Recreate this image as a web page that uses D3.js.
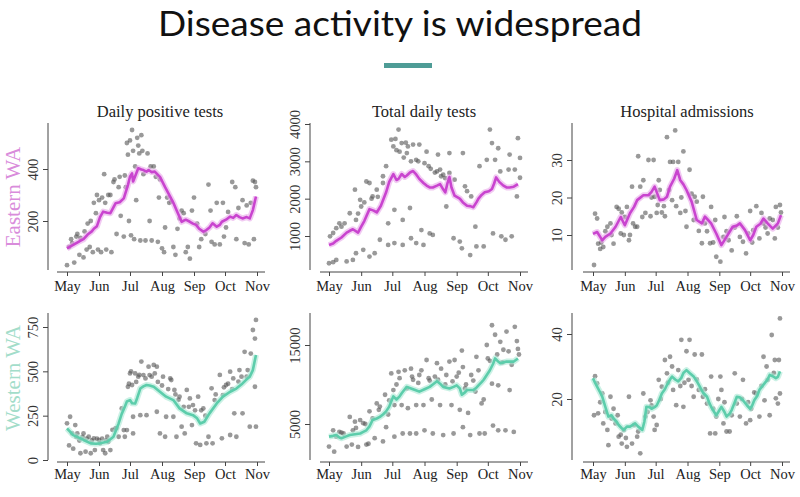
<!DOCTYPE html>
<html><head><meta charset="utf-8">
<script src="https://cdn.jsdelivr.net/npm/d3@7"></script>
<style>
html,body{margin:0;padding:0;background:#fff;}
svg{display:block;}
</style></head>
<body>
<svg id="chart" width="800" height="497"></svg>
<script>
// ---------------- DATA ----------------
const chartTitle = "Disease activity is widespread";
const panelTitles = ["Daily positive tests", "Total daily tests", "Hospital admissions"];
const rowLabels = ["Eastern WA", "Western WA"];
const monthLabels = ["May", "Jun", "Jul", "Aug", "Sep", "Oct", "Nov"];
const startDate = "2020-05-01"; // day 0

const eastPosTicks = [200, 400];
const eastTestTicks = [1000, 2000, 3000, 4000];
const eastHospTicks = [10, 20, 30];
const westPosTicks = [0, 250, 500, 750];
const westTestTicks = [5000, 15000];
const westHospTicks = [20, 40];

// [day since May 1, value]
const eastPosLine = [[0,95],[6,108],[12,122],[16,130],[20,148],[24,160],[26,170],[29,180],[32,215],[35,236],[39,232],[42,230],[47,268],[51,272],[55,287],[59,338],[61,370],[63,383],[64,352],[66,372],[69,403],[72,398],[74,396],[77,390],[79,396],[82,388],[85,390],[90,370],[95,330],[100,293],[103,270],[106,242],[109,215],[111,197],[115,205],[119,197],[122,190],[125,185],[128,170],[132,159],[135,165],[138,175],[141,191],[145,178],[148,185],[150,197],[154,205],[158,217],[161,212],[164,223],[167,215],[170,210],[174,215],[177,210],[180,242],[183,294]];
const eastPosDots = [[0,30],[2,100],[4,130],[5,115],[7,40],[9,140],[10,150],[12,70],[13,135],[16,60],[17,160],[19,90],[20,190],[22,100],[23,200],[25,80],[26,270],[28,230],[29,300],[30,90],[31,280],[33,80],[34,290],[36,380],[37,270],[38,90],[40,300],[42,300],[43,80],[45,350],[46,360],[48,150],[50,330],[51,370],[52,220],[55,140],[56,375],[57,330],[58,500],[59,455],[60,200],[61,510],[62,145],[63,550],[64,470],[65,130],[66,410],[67,280],[68,520],[69,490],[70,460],[71,125],[72,530],[73,470],[74,380],[76,125],[78,460],[80,200],[81,410],[82,125],[84,410],[86,370],[88,120],[89,290],[90,360],[92,95],[94,80],[95,175],[97,290],[99,270],[101,275],[103,100],[105,70],[107,170],[109,210],[111,240],[113,230],[115,80],[117,100],[119,55],[121,240],[123,290],[126,190],[128,100],[130,130],[134,150],[137,340],[139,240],[140,120],[143,110],[145,270],[148,110],[151,270],[152,140],[154,175],[156,235],[160,350],[163,330],[164,130],[166,250],[170,280],[172,115],[174,260],[176,110],[178,270],[180,355],[181,130],[182,350],[183,330]];

const eastTestLine = [[0,760],[4,800],[7,870],[12,960],[17,1090],[20,1140],[23,1180],[28,1090],[31,1250],[34,1400],[39,1720],[43,1680],[46,1630],[50,1810],[55,2170],[58,2450],[62,2660],[65,2500],[67,2530],[70,2660],[73,2580],[75,2620],[78,2700],[81,2740],[84,2650],[87,2530],[91,2420],[94,2350],[97,2300],[100,2300],[104,2350],[107,2390],[110,2250],[112,2170],[114,2400],[116,2580],[118,2300],[121,2080],[126,2000],[129,1900],[133,1810],[136,1800],[139,1770],[142,1900],[144,2000],[147,2100],[150,2170],[154,2200],[157,2260],[159,2400],[161,2570],[164,2450],[168,2350],[171,2300],[174,2300],[178,2320],[182,2390]];
const eastTestDots = [[0,270],[4,300],[7,360],[1,990],[4,1080],[7,1210],[10,1340],[12,1250],[15,1340],[17,320],[23,360],[20,1610],[26,540],[25,2240],[26,1430],[30,1970],[31,1790],[33,630],[36,2460],[39,2420],[39,450],[42,2060],[44,540],[46,2240],[49,900],[52,2420],[52,2600],[55,2870],[57,1340],[57,760],[60,3580],[62,3400],[63,1700],[63,810],[67,3850],[68,3260],[70,3490],[71,1430],[71,760],[75,3220],[76,3400],[78,1750],[79,940],[81,3450],[84,810],[84,3040],[87,3450],[89,1160],[91,760],[94,3260],[96,2870],[97,1070],[100,1030],[104,2730],[105,3180],[107,2780],[110,2640],[113,1790],[116,3220],[116,2690],[120,940],[121,2510],[126,850],[128,670],[129,3220],[131,2330],[133,2200],[136,490],[137,2060],[141,1250],[142,720],[145,2870],[149,720],[152,3040],[155,3850],[157,3490],[158,1070],[160,3040],[163,3350],[165,2730],[166,990],[170,900],[173,2780],[174,3180],[176,990],[179,2780],[181,2060],[182,3620],[184,3090],[184,2560],[64,3600],[65,3300],[72,3100],[74,3500],[79,3000],[86,3000],[92,2950],[98,2800],[102,2700],[108,2600],[112,2550],[28,1600],[34,1900],[41,2000],[47,2050]];

const eastHospLine = [[0,10.3],[4,10.8],[7,9.5],[9,8.6],[12,9.5],[17,10.4],[22,12.2],[27,14.8],[31,12.6],[36,15.8],[40,17.5],[43,19.3],[49,20.6],[54,20.6],[57,21.5],[60,22.9],[65,19.3],[69,19.5],[72,20.2],[75,22.9],[79,25],[82,27.3],[85,24.6],[88,23.5],[91,22],[96,18.9],[101,14],[106,13.1],[109,14.9],[112,14],[115,13.1],[120,10.4],[125,7.3],[130,9.5],[136,12.2],[140,12.5],[143,13.1],[148,11.3],[153,8.6],[156,10],[159,12.2],[163,13],[166,14.4],[170,13.1],[175,11.7],[180,13.1],[183,15.3]];
const eastHospDots = [[1,2.0],[2,15.7],[4,14.4],[5,7.7],[7,6.3],[10,6.8],[14,12.2],[17,13.1],[20,7.7],[23,17.5],[25,17],[27,10.4],[30,10],[31,14.8],[33,17.5],[35,8.6],[38,22.9],[39,13.1],[41,12.2],[43,12.2],[44,31],[46,22.9],[48,14.8],[49,24.6],[51,15.9],[54,30],[56,15],[59,30],[60,20.2],[62,15.9],[64,24.6],[65,22],[67,16],[69,17.7],[70,15],[72,36.1],[75,29.5],[77,19.3],[78,29.5],[80,37.9],[81,17.7],[83,29.5],[85,15.9],[88,32.3],[90,16.4],[91,12.2],[94,27.4],[98,14],[99,20.2],[101,18.9],[103,11.1],[106,7.8],[107,20.2],[109,13.1],[114,7.8],[115,17.5],[119,14],[120,4.2],[124,2.9],[127,9.5],[128,14.8],[132,8.6],[135,5.9],[140,15],[143,9.5],[146,8.2],[149,5.1],[151,10.4],[153,16.4],[156,11.3],[159,17.7],[162,9.1],[164,15.9],[166,13.1],[170,10.4],[172,14.4],[177,9.1],[178,17.5],[182,18],[183,16],[8,8],[12,11],[18,10],[28,16],[36,10],[57,20],[63,18],[74,22],[86,20],[96,21],[111,11],[117,8],[130,11],[138,12],[155,8],[168,12],[175,14],[180,12]];

const westPosLine = [[0,178],[6,140],[12,125],[16,113],[23,94],[28,92],[32,94],[39,103],[45,131],[50,206],[53,260],[56,300],[58,330],[61,338],[63,320],[66,319],[68,350],[71,403],[74,415],[77,423],[80,420],[84,413],[90,385],[96,357],[103,338],[109,291],[116,263],[122,253],[126,235],[129,206],[133,216],[138,263],[145,319],[151,357],[158,385],[164,403],[170,432],[174,455],[177,470],[180,507],[183,592]];
const westPosDots = [[0,207],[2,82],[3,244],[6,64],[8,197],[10,150],[13,38],[16,150],[18,47],[21,131],[23,38],[26,122],[27,56],[31,113],[32,94],[35,56],[37,38],[39,131],[40,103],[42,56],[47,178],[50,131],[53,291],[55,169],[56,131],[58,169],[59,413],[61,488],[63,423],[64,150],[64,244],[66,488],[69,470],[71,253],[72,555],[74,479],[77,253],[79,526],[80,479],[84,536],[85,488],[87,526],[87,272],[90,150],[93,470],[95,131],[96,244],[100,460],[101,451],[103,244],[104,395],[106,131],[109,357],[111,188],[114,150],[116,395],[119,347],[121,197],[122,310],[125,94],[127,357],[129,85],[132,291],[135,94],[137,131],[140,404],[141,94],[143,338],[148,480],[150,122],[151,366],[154,423],[158,141],[158,498],[161,460],[162,263],[164,131],[166,442],[167,507],[170,263],[172,610],[175,507],[177,188],[178,600],[180,733],[182,685],[183,188],[183,790],[182,413],[60,430],[62,500],[67,440],[70,480],[76,460],[82,470],[88,440],[92,420],[98,400],[105,370],[108,340],[113,300],[118,300],[124,280],[130,280],[134,250],[144,370],[152,410],[156,430],[160,400],[169,470],[174,470],[5,150],[9,130],[12,110],[15,130],[19,120],[24,110],[29,120],[34,120],[38,110],[44,170],[48,180]];

const westTestLine = [[0,3400],[4,3500],[7,3600],[10,3300],[12,3200],[16,3400],[20,3600],[25,3700],[30,3800],[33,4000],[36,4200],[39,4700],[42,5500],[46,5700],[49,5900],[52,6200],[55,6600],[58,7200],[62,8500],[65,8100],[68,8500],[70,8900],[73,9400],[75,9700],[79,9500],[83,9300],[87,9100],[92,9400],[97,9700],[100,10000],[104,10400],[107,10100],[110,9700],[113,9600],[116,9500],[120,9700],[123,9900],[126,9500],[128,8700],[131,9000],[133,9300],[136,9300],[139,9300],[142,9600],[144,9900],[147,10300],[149,10600],[152,11200],[155,11800],[158,12600],[160,13300],[163,12900],[165,12700],[168,12800],[171,12900],[175,12900],[178,12900],[182,13300]];
const westTestDots = [[0,2140],[5,1500],[7,3400],[4,4200],[10,4000],[12,3900],[17,2140],[20,5900],[22,2400],[23,4200],[25,5300],[28,2100],[30,5500],[33,5100],[36,2400],[38,2500],[39,6600],[42,5700],[44,3200],[46,7600],[49,7200],[52,2800],[54,8700],[55,4600],[57,6200],[60,11400],[62,9300],[63,7400],[63,3400],[67,11600],[68,10800],[70,7400],[71,3800],[73,11800],[75,9500],[76,7000],[78,3800],[79,12000],[81,10600],[84,7400],[84,3800],[87,11200],[89,11800],[91,7400],[92,4200],[94,13100],[96,10800],[99,8100],[100,3800],[102,11000],[104,12700],[107,7400],[108,12000],[110,3600],[113,11200],[116,12900],[118,7400],[120,3800],[121,13100],[123,11000],[126,6800],[128,14300],[129,4600],[129,12200],[131,9500],[134,6400],[136,3600],[137,11200],[141,9100],[142,13500],[145,3800],[147,7600],[149,8100],[150,3800],[152,15000],[153,13300],[157,17500],[157,10100],[158,4800],[160,16300],[163,9900],[163,4200],[165,15400],[168,14400],[170,4200],[171,16700],[173,14200],[174,9300],[178,4000],[179,17300],[181,15500],[182,14500],[14,3800],[26,4500],[35,5000],[48,6800],[58,8000],[65,10000],[80,11000],[86,10200],[97,10500],[105,10600],[112,10000],[119,10400],[125,11500],[132,10000],[139,10500],[144,11800],[155,13000],[162,13800],[167,12800],[176,12500],[183,13800]];

const westHospLine = [[0,26.4],[2,25],[4,23.8],[7,22],[9,20.7],[12,17.6],[15,14.6],[18,15],[20,14],[23,13],[25,12],[28,11],[30,10.5],[33,11.5],[36,11.5],[41,12.5],[44,11.5],[48,10.5],[50,13],[52,17.6],[55,17.5],[57,17],[60,17.5],[62,18],[65,20],[67,21.7],[70,23],[72,24.3],[75,26],[77,26.9],[80,26],[83,25.4],[86,26.5],[88,28],[91,28.9],[94,28],[98,26.9],[101,25.5],[104,23.8],[107,22],[111,20.7],[113,19],[115,17.6],[118,16],[120,15],[122,16],[125,17.6],[128,16],[130,14.6],[133,15.5],[135,16.6],[138,19],[140,20.7],[143,20.5],[146,19.6],[150,18],[153,17],[155,18],[157,19.6],[160,21],[162,22.8],[165,24],[167,24.8],[170,26],[172,27.4],[175,27],[178,26.4],[180,26.8],[182,28.5]];
const westHospDots = [[1,15],[2,27],[4,24.8],[5,15.6],[9,21.7],[10,12.5],[14,10.5],[15,5.8],[17,20.7],[20,17],[22,12.5],[25,8.4],[28,6.3],[30,10.5],[33,5.3],[35,20.7],[38,6.3],[43,8.4],[46,3.3],[49,21.7],[51,14.6],[56,19.6],[59,14.6],[60,10.5],[62,12],[64,25.9],[67,23.8],[70,32],[72,27.9],[75,33],[78,22.8],[81,18.1],[83,28.9],[86,38.2],[88,17.6],[91,34.7],[93,25.9],[94,38.2],[98,20.7],[99,33.7],[103,22.8],[106,33.7],[107,20.7],[111,18.6],[114,9.4],[115,26.9],[119,9.4],[120,14.6],[124,26.9],[125,22.8],[127,12.5],[130,10],[133,10],[138,27.9],[140,18.6],[143,14.6],[146,25.9],[149,12.5],[153,13.5],[154,17],[159,21.7],[162,14.6],[166,33],[167,19.6],[170,25.9],[172,15],[174,39.7],[177,32],[178,20.2],[182,44.8],[182,21.7],[180,18.6],[7,19],[12,16],[18,14],[24,15],[27,9],[32,8],[40,12],[44,10],[53,16],[57,18],[66,20],[73,25],[77,30],[85,24],[89,25],[96,24],[101,26],[109,23],[117,17],[122,20],[128,19],[135,15],[145,20],[151,19],[157,22],[164,24],[169,30],[176,28],[181,32]];

// ---------------- DRAW ----------------
const svg = d3.select("#chart");
const serif = "'Liberation Serif','Times New Roman',serif";
const t0 = d3.timeParse("%Y-%m-%d")(startDate);
const toDate = d => d3.timeDay.offset(t0, d);
const monthDates = d3.range(7).map(i => d3.timeMonth.offset(t0, i));

const colors = {
  east: {core: "#c944cf", glow: "#e7a6ea", label: "#d98cdb"},
  west: {core: "#5ccdab", glow: "#a9e7d4", label: "#a3ddca"}
};

// title
svg.append("text")
  .attr("x", 400).attr("y", 36)
  .attr("text-anchor", "middle")
  .attr("font-family", "Lato, 'Open Sans', sans-serif")
  .attr("font-weight", 400)
  .attr("font-size", 35)
  .attr("fill", "#111")
  .attr("textLength", 484).attr("lengthAdjust", "spacingAndGlyphs")
  .text(chartTitle);
svg.append("rect").attr("x", 384).attr("y", 63).attr("width", 48).attr("height", 5).attr("fill", "#4e9c96");

const cols = [
  {yAxisX: 48, xr: [67, 257], xa: [57, 265], title: 160},
  {yAxisX: 310, xr: [329, 520], xa: [320, 528], title: 424},
  {yAxisX: 572, xr: [593, 782], xa: [583, 790], title: 687}
];
const rows = [
  {axTop: 123, axBot: 270, xAxisY: 272, lblY: 19, label: 197, key: "east"},
  {axTop: 313, axBot: 460, xAxisY: 462, lblY: 17, label: 378, key: "west"}
];
const panels = [
  {r:0,c:0, dots: eastPosDots, line: eastPosLine, ticks: eastPosTicks, cal: [[200,221],[400,169]]},
  {r:0,c:1, dots: eastTestDots, line: eastTestLine, ticks: eastTestTicks, cal: [[1000,236],[4000,124]]},
  {r:0,c:2, dots: eastHospDots, line: eastHospLine, ticks: eastHospTicks, cal: [[10,235],[30,160]]},
  {r:1,c:0, dots: westPosDots, line: westPosLine, ticks: westPosTicks, cal: [[0,460],[750,327]]},
  {r:1,c:1, dots: westTestDots, line: westTestLine, ticks: westTestTicks, cal: [[5000,424],[15000,345]]},
  {r:1,c:2, dots: westHospDots, line: westHospLine, ticks: westHospTicks, cal: [[20,399],[40,334]]}
];

panels.forEach(p => {
  const col = cols[p.c], row = rows[p.r], clr = colors[row.key];
  const x = d3.scaleTime().domain([monthDates[0], monthDates[6]]).range(col.xr);
  const y = d3.scaleLinear().domain([p.cal[0][0], p.cal[1][0]]).range([p.cal[0][1], p.cal[1][1]]);
  const g = svg.append("g");

  // x axis
  const xg = g.append("g").attr("transform", `translate(0,${row.xAxisY})`)
    .call(d3.axisBottom(x).tickValues(monthDates).tickFormat((d, i) => monthLabels[i]).tickSize(4).tickSizeOuter(0));
  xg.select(".domain").remove();
  xg.append("line").attr("x1", col.xa[0]).attr("x2", col.xa[1]).attr("stroke", "#444");
  xg.selectAll(".tick line").attr("stroke", "#444");
  xg.selectAll(".tick text").attr("y", row.lblY).attr("dy", "0")
    .attr("font-family", serif).attr("font-size", 14.5).attr("fill", "#222");

  // y axis
  const yg = g.append("g").attr("transform", `translate(${col.yAxisX},0)`)
    .call(d3.axisLeft(y).tickValues(p.ticks).tickFormat(d3.format("d")).tickSize(5).tickSizeOuter(0));
  yg.select(".domain").remove();
  yg.append("line").attr("y1", row.axTop).attr("y2", row.axBot).attr("stroke", "#444");
  yg.selectAll(".tick line").attr("stroke", "#444");
  yg.selectAll(".tick text")
    .attr("transform", "rotate(-90)").attr("x", 0).attr("y", -10).attr("dy", "0")
    .attr("text-anchor", "middle")
    .attr("font-family", serif).attr("font-size", 14.5).attr("fill", "#333");

  // dots
  g.append("g").selectAll("circle").data(p.dots).join("circle")
    .attr("cx", d => x(toDate(d[0]))).attr("cy", d => y(d[1]))
    .attr("r", 2.4).attr("fill", "#555").attr("fill-opacity", 0.6);

  // line with glow
  const lineGen = d3.line().x(d => x(toDate(d[0]))).y(d => y(d[1]));
  g.append("path").datum(p.line).attr("d", lineGen)
    .attr("fill", "none").attr("stroke", clr.glow).attr("stroke-width", 6)
    .attr("stroke-opacity", 0.6).attr("stroke-linejoin", "round");
  g.append("path").datum(p.line).attr("d", lineGen)
    .attr("fill", "none").attr("stroke", clr.core).attr("stroke-width", 2.6)
    .attr("stroke-linejoin", "round");

  // panel title
  if (p.r === 0) {
    svg.append("text").attr("x", col.title).attr("y", 117).attr("text-anchor", "middle")
      .attr("font-family", serif).attr("font-size", 16.5).attr("fill", "#222")
      .text(panelTitles[p.c]);
  }
});

// row labels
rows.forEach((row, i) => {
  svg.append("text")
    .attr("transform", `translate(20,${row.label}) rotate(-90)`)
    .attr("text-anchor", "middle")
    .attr("font-family", serif).attr("font-size", 21)
    .attr("fill", colors[row.key].label)
    .text(rowLabels[i]);
});
</script>
</body></html>
